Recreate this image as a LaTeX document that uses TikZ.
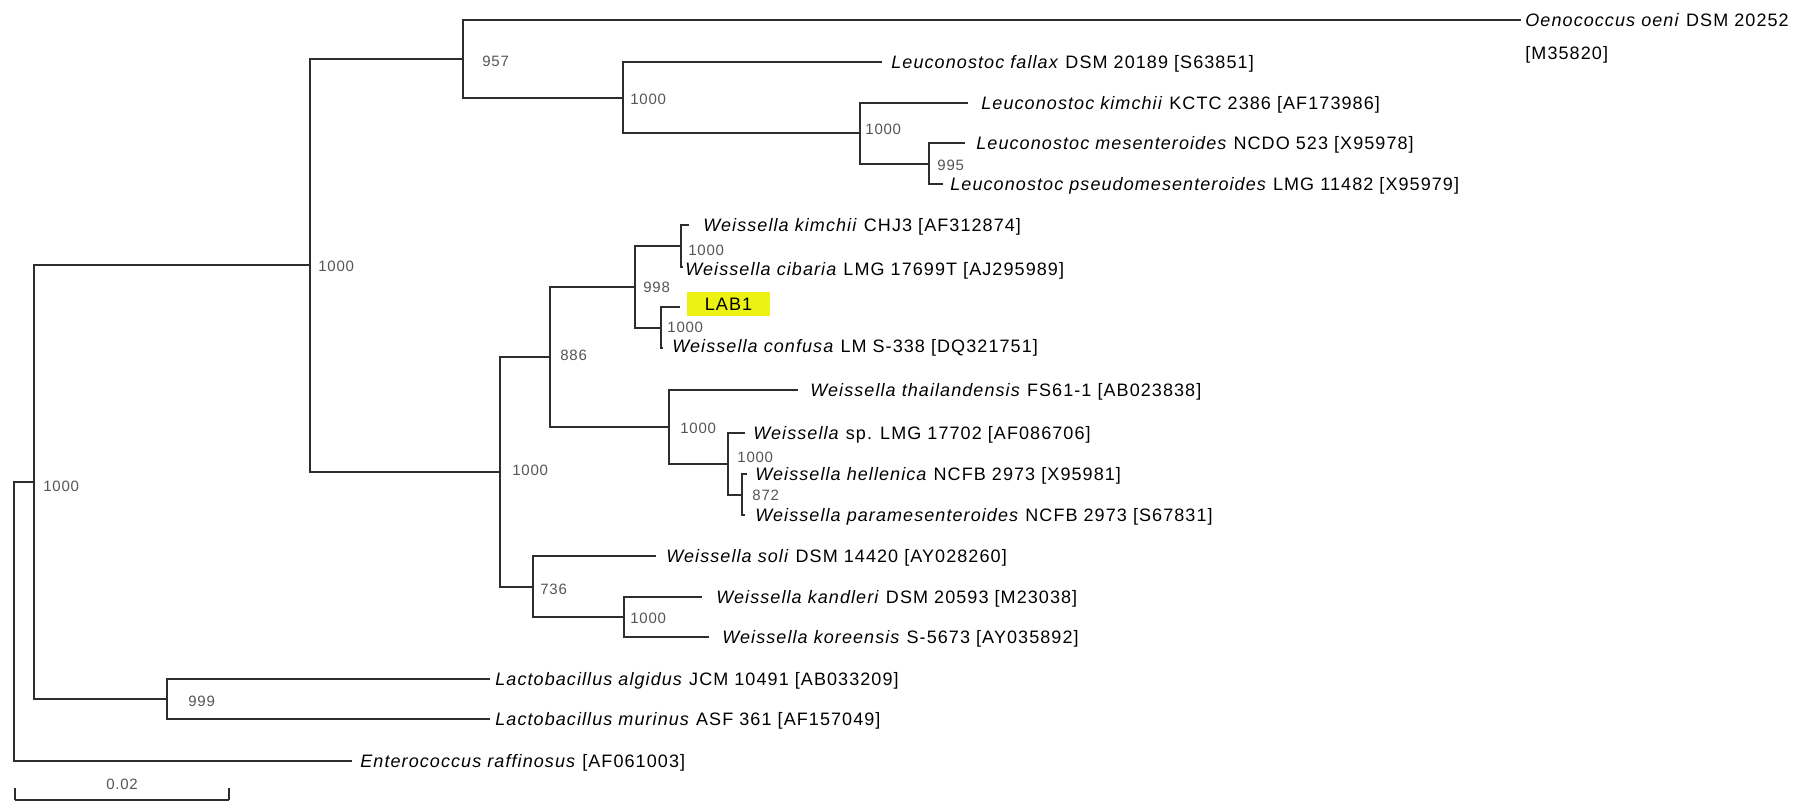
\documentclass[tikz,border=0pt]{standalone}
\usepackage{fontspec}
\newfontfamily\labfont{Liberation Sans}[LetterSpace=6]
\newfontfamily\bootfont{Liberation Sans}[LetterSpace=5]
\definecolor{labyellow}{RGB}{236,242,20}
\definecolor{branch}{RGB}{45,45,45}
\definecolor{bootgray}{RGB}{85,85,85}
\begin{document}
\begin{tikzpicture}[x=0.5pt,y=-0.5pt,
  br/.style={draw=branch, line width=0.8pt},
  leaf/.style={anchor=west, inner sep=0pt, text height=6.45pt, text depth=0pt,
    font=\labfont\fontsize{9}{10.8}\selectfont, text=black},
  boot/.style={anchor=west, inner sep=0pt, font=\bootfont\fontsize{7.5}{9}\selectfont, text=bootgray}]
\useasboundingbox (0,0) rectangle (1798,806);
% internal nodes
\coordinate (R) at (14,622);
\coordinate (B) at (34,482);
\coordinate (C) at (310,265);
\coordinate (A) at (463,59);
\coordinate (D) at (623,98);
\coordinate (E) at (860,133);
\coordinate (F) at (929,164);
\coordinate (N) at (500,472);
\coordinate (J) at (550,357);
\coordinate (H) at (635,287);
\coordinate (G) at (681,246);
\coordinate (I) at (661,328);
\coordinate (K) at (669,427);
\coordinate (L) at (728,464);
\coordinate (M) at (742,495);
\coordinate (O) at (533,587);
\coordinate (P) at (624,617);
\coordinate (Q) at (167,699);
% leaf tips
\coordinate (t1) at (1521,20);
\coordinate (t2) at (882,62);
\coordinate (t3) at (968,103);
\coordinate (t4) at (965,143);
\coordinate (t5) at (943,184);
\coordinate (t6) at (689,225);
\coordinate (t7) at (683,267);
\coordinate (t8) at (680,307);
\coordinate (t9) at (663,348);
\coordinate (t10) at (798,390);
\coordinate (t11) at (745,433);
\coordinate (t12) at (747,474);
\coordinate (t13) at (745,515);
\coordinate (t14) at (656,556);
\coordinate (t15) at (702,597);
\coordinate (t16) at (709,637);
\coordinate (t17) at (490,679);
\coordinate (t18) at (490,719);
\coordinate (t19) at (352,761);
% branches
\draw[br] (R) |- (B);  \draw[br] (R) |- (t19);
\draw[br] (B) |- (C);  \draw[br] (B) |- (Q);
\draw[br] (Q) |- (t17); \draw[br] (Q) |- (t18);
\draw[br] (C) |- (A);  \draw[br] (C) |- (N);
\draw[br] (A) |- (t1); \draw[br] (A) |- (D);
\draw[br] (D) |- (t2); \draw[br] (D) |- (E);
\draw[br] (E) |- (t3); \draw[br] (E) |- (F);
\draw[br] (F) |- (t4); \draw[br] (F) |- (t5);
\draw[br] (N) |- (J);  \draw[br] (N) |- (O);
\draw[br] (J) |- (H);  \draw[br] (J) |- (K);
\draw[br] (H) |- (G);  \draw[br] (H) |- (I);
\draw[br] (G) |- (t6); \draw[br] (G) |- (t7);
\draw[br] (I) |- (t8); \draw[br] (I) |- (t9);
\draw[br] (K) |- (t10); \draw[br] (K) |- (L);
\draw[br] (L) |- (t11); \draw[br] (L) |- (M);
\draw[br] (M) |- (t12); \draw[br] (M) |- (t13);
\draw[br] (O) |- (t14); \draw[br] (O) |- (P);
\draw[br] (P) |- (t15); \draw[br] (P) |- (t16);
% leaf labels
\node[leaf] (n1) at (1525,20) {\textit{Oenococcus oeni} DSM 20252};
\node[leaf] (n1b) at (1525,53) {[M35820]};
\node[leaf] (n2) at (891,62) {\textit{Leuconostoc fallax} DSM 20189 [S63851]};
\node[leaf] (n3) at (981,103) {\textit{Leuconostoc kimchii} KCTC 2386 [AF173986]};
\node[leaf] (n4) at (976,143) {\textit{Leuconostoc mesenteroides} NCDO 523 [X95978]};
\node[leaf] (n5) at (950,184) {\textit{Leuconostoc pseudomesenteroides} LMG 11482 [X95979]};
\node[leaf] (n6) at (703,225) {\textit{Weissella kimchii} CHJ3 [AF312874]};
\node[leaf] (n7) at (685,269) {\textit{Weissella cibaria} LMG 17699T [AJ295989]};
\node[leaf, anchor=center, fill=labyellow, text height=6.45pt, minimum width=41.5pt, minimum height=12pt] (n8) at (728.5,304) {LAB1};
\node[leaf] (n9) at (672,346) {\textit{Weissella confusa} LM S-338 [DQ321751]};
\node[leaf] (n10) at (810,390) {\textit{Weissella thailandensis} FS61-1 [AB023838]};
\node[leaf] (n11) at (753,433) {\textit{Weissella} sp. LMG 17702 [AF086706]};
\node[leaf] (n12) at (755,474) {\textit{Weissella hellenica} NCFB 2973 [X95981]};
\node[leaf] (n13) at (755,515) {\textit{Weissella paramesenteroides} NCFB 2973 [S67831]};
\node[leaf] (n14) at (666,556) {\textit{Weissella soli} DSM 14420 [AY028260]};
\node[leaf] (n15) at (716,597) {\textit{Weissella kandleri} DSM 20593 [M23038]};
\node[leaf] (n16) at (722,637) {\textit{Weissella koreensis} S-5673 [AY035892]};
\node[leaf] (n17) at (495,679) {\textit{Lactobacillus algidus} JCM 10491 [AB033209]};
\node[leaf] (n18) at (495,719) {\textit{Lactobacillus murinus} ASF 361 [AF157049]};
\node[leaf] (n19) at (360,761) {\textit{Enterococcus raffinosus} [AF061003]};
% bootstrap values
\node[boot] (bB) at (43,486) {1000};
\node[boot] (bC) at (318,266) {1000};
\node[boot] (bA) at (482,61) {957};
\node[boot] (bD) at (630,99) {1000};
\node[boot] (bE) at (865,129) {1000};
\node[boot] (bF) at (937,165) {995};
\node[boot] (bG) at (688,250) {1000};
\node[boot] (bH) at (643,287) {998};
\node[boot] (bI) at (667,327) {1000};
\node[boot] (bJ) at (560,355) {886};
\node[boot] (bN) at (512,470) {1000};
\node[boot] (bK) at (680,428) {1000};
\node[boot] (bL) at (737,457) {1000};
\node[boot] (bM) at (752,495) {872};
\node[boot] (bO) at (540,589) {736};
\node[boot] (bP) at (630,618) {1000};
\node[boot] (bQ) at (188,701) {999};
% scale bar
\coordinate (s1) at (15,800);
\coordinate (s2) at (229,800);
\draw[br] (s1) -- (s2);
\draw[br] (s1) -- ++(0,-12);
\draw[br] (s2) -- ++(0,-12);
\node[boot, anchor=center] (sc) at (122,784) {0.02};
\end{tikzpicture}
\end{document}
